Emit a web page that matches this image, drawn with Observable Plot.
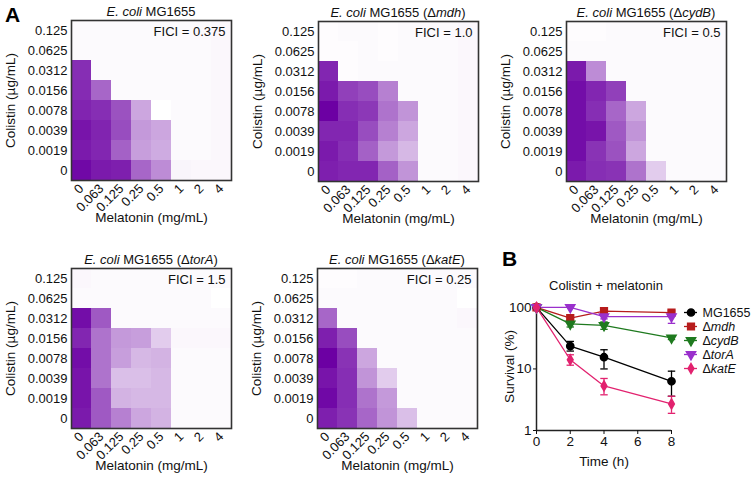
<!DOCTYPE html>
<html><head><meta charset="utf-8">
<script src="https://cdn.jsdelivr.net/npm/d3@7"></script>
<script src="https://cdn.jsdelivr.net/npm/@observablehq/plot@0.6"></script>
<style>
body{margin:0;background:#fff;font-family:"Liberation Sans",Arial,sans-serif;}
#fig{position:relative;width:752px;height:486px;overflow:hidden;background:#fff;}
.ttl{position:absolute;font-size:13px;color:#111;white-space:nowrap;transform:translate(-50%,-50%);line-height:1;}
.pl{position:absolute;font-size:21px;font-weight:bold;color:#000;line-height:1;}
svg text{font-family:"Liberation Sans",Arial,sans-serif;}
</style></head><body><div id="fig"></div>
<script>
// ---------- Heatmap data (checkerboard growth, 0..1) ----------
const melatonin = ["0","0.063","0.125","0.25","0.5","1","2","4"];
const colistin = ["0.125","0.0625","0.0312","0.0156","0.0078","0.0039","0.0019","0"]; // top -> bottom

const growthWT = [
  [0.02,0.02,0.02,0.02,0.02,0.02,0.02,0.03],
  [0.02,0.02,0.02,0.02,0.02,0.02,0.02,0.03],
  [0.82,0.02,0.02,0.02,0.02,0.02,0.02,0.03],
  [0.83,0.60,0.02,0.02,0.02,0.02,0.02,0.03],
  [0.86,0.82,0.68,0.35,0.00,0.02,0.02,0.03],
  [0.92,0.86,0.70,0.40,0.35,0.02,0.02,0.03],
  [0.90,0.85,0.62,0.38,0.33,0.02,0.02,0.03],
  [0.97,0.90,0.88,0.60,0.45,0.04,0.03,0.03]
];
const growthMdh = [
  [0.01,0.02,0.02,0.01,0.02,0.02,0.02,0.03],
  [0.01,0.01,0.02,0.01,0.02,0.02,0.02,0.03],
  [0.85,0.01,0.02,0.02,0.02,0.02,0.02,0.03],
  [0.90,0.75,0.70,0.50,0.02,0.02,0.02,0.03],
  [1.00,0.82,0.78,0.55,0.42,0.02,0.02,0.03],
  [0.85,0.85,0.70,0.50,0.35,0.02,0.02,0.03],
  [0.90,0.82,0.62,0.40,0.28,0.02,0.02,0.03],
  [0.88,0.85,0.85,0.62,0.42,0.02,0.02,0.03]
];
const growthCydB = [
  [0.01,0.01,0.02,0.02,0.02,0.02,0.02,0.02],
  [0.02,0.02,0.02,0.02,0.02,0.02,0.02,0.02],
  [0.90,0.45,0.02,0.02,0.02,0.02,0.02,0.02],
  [0.95,0.85,0.75,0.02,0.02,0.02,0.02,0.02],
  [0.95,0.82,0.60,0.35,0.02,0.02,0.02,0.02],
  [0.95,0.92,0.65,0.42,0.02,0.02,0.02,0.02],
  [0.95,0.80,0.68,0.35,0.02,0.02,0.02,0.02],
  [0.90,0.82,0.80,0.55,0.20,0.02,0.02,0.02]
];
const growthTorA = [
  [0.03,0.02,0.02,0.02,0.02,0.02,0.02,0.02],
  [0.02,0.02,0.02,0.02,0.02,0.02,0.02,0.00],
  [0.95,0.65,0.02,0.02,0.02,0.02,0.02,0.02],
  [0.85,0.55,0.40,0.38,0.20,0.03,0.03,0.03],
  [0.95,0.55,0.38,0.28,0.30,0.02,0.02,0.02],
  [0.92,0.55,0.25,0.25,0.28,0.02,0.02,0.02],
  [0.92,0.65,0.30,0.28,0.28,0.02,0.02,0.02],
  [0.90,0.65,0.50,0.35,0.30,0.02,0.02,0.02]
];
const growthKatE = [
  [0.01,0.01,0.02,0.02,0.02,0.02,0.02,0.02],
  [0.02,0.02,0.02,0.02,0.02,0.02,0.02,0.00],
  [0.60,0.02,0.02,0.02,0.02,0.02,0.02,0.03],
  [0.88,0.70,0.02,0.02,0.02,0.02,0.02,0.02],
  [1.00,0.80,0.35,0.02,0.02,0.02,0.02,0.02],
  [0.92,0.82,0.42,0.20,0.02,0.02,0.02,0.02],
  [0.97,0.82,0.55,0.40,0.02,0.02,0.02,0.02],
  [0.88,0.80,0.60,0.42,0.25,0.02,0.02,0.02]
];
const ficiLabels = ["FICI = 0.375","FICI = 1.0","FICI = 0.5","FICI = 1.5","FICI = 0.25"];
const heatTitles = [
  "<i>E. coli</i> MG1655",
  "<i>E. coli</i> MG1655 (Δ<i>mdh</i>)",
  "<i>E. coli</i> MG1655 (Δ<i>cydB</i>)",
  "<i>E. coli</i> MG1655 (Δ<i>torA</i>)",
  "<i>E. coli</i> MG1655 (Δ<i>katE</i>)"
];

// ---------- Time-kill data ----------
const strains = ["MG1655","Δmdh","ΔcydB","ΔtorA","ΔkatE"];
const times = [0,2,4,8];
const timeTicks = [0,2,4,6,8];
const survTicks = [1,10,100];
const survMG1655 = [100,23.5,15.5,6.3], loMG1655 = [100,19.5,10,3.6], hiMG1655 = [100,28,20.5,9.2];
const survMdh = [100,67,87,82],        loMdh = [100,62,80,75],      hiMdh = [100,72,93,89];
const survCydB = [100,54,51,32],       loCydB = [100,48,44,30],     hiCydB = [100,60,58,34];
const survTorA = [100,100,71,71],      loTorA = [100,100,65,55],    hiTorA = [100,100,77,85];
const survKatE = [100,14.1,5.3,2.7],   loKatE = [100,11.5,3.8,1.9], hiKatE = [100,17,7,3.6];
const strainColors = ["#000000","#b71c1c","#1f7a1f","#9a30cc","#e2226f"];
const strainSymbols = ["circle","square","triangle","triangle","diamond"];
const strainRotate = [0,0,180,180,0];
const strainR = [3.6,3.8,3.4,3.4,3.0];

const FONT = '"Liberation Sans", Arial, sans-serif';
const fig = document.getElementById("fig");

function place(el, left, top) {
  el.style.position = "absolute"; el.style.left = left + "px"; el.style.top = top + "px";
  fig.appendChild(el);
}
function addDiv(cls, html, left, top) {
  const d = document.createElement("div"); d.className = cls; d.innerHTML = html;
  d.style.left = left + "px"; d.style.top = top + "px"; fig.appendChild(d);
}
// enforce text sizes on axis texts
function styleTexts(svg, tickSize, labelSize) {
  svg.querySelectorAll("text").forEach(t => {
    const g = t.closest("[aria-label]");
    const lab = g ? g.getAttribute("aria-label") : "";
    t.style.fontFamily = FONT;
    if (/tick label/.test(lab)) t.style.fontSize = tickSize + "px";
    else if (/axis label/.test(lab)) {
      t.style.fontSize = labelSize + "px";
      t.textContent = t.textContent.replace(/[↑↓→←]/g, "").trim();
    }
  });
}

function heat(matrix, fici) {
  const data = [];
  matrix.forEach((row, i) => row.forEach((v, j) => data.push({mel: melatonin[j], col: colistin[i], v})));
  const svg = Plot.plot({
    width: 250, height: 240, marginLeft: 71, marginRight: 19, marginTop: 20, marginBottom: 60,
    style: {fontFamily: FONT, fontSize: "13px", color: "#111", background: "transparent", overflow: "visible"},
    x: {domain: melatonin, padding: 0},
    y: {domain: colistin, padding: 0},
    color: {type: "linear", domain: [0, 1], range: ["#ffffff", "#6c00a3"], interpolate: "rgb"},
    marks: [
      Plot.cell(data, {x: "mel", y: "col", fill: "v", shapeRendering: "crispEdges"}),
      Plot.frame({stroke: "#333", strokeWidth: 1.6}),
      Plot.text([fici], {frameAnchor: "top-right", dx: -6, dy: 6, fontSize: 13, fill: "#111"}),
      Plot.axisY({tickSize: 0, tickPadding: 4, fontSize: 13, label: "Colistin (µg/mL)", labelAnchor: "center", labelOffset: 66, labelArrow: "none"}),
      Plot.axisX({tickRotate: -45, tickSize: 0, tickPadding: 6, fontSize: 13, label: "Melatonin (mg/mL)", labelAnchor: "center", labelOffset: 41, labelArrow: "none"})
    ]
  });
  styleTexts(svg, 13, 13.5);
  return svg;
}

const heatSpecs = [
  {m: growthWT,   left: 0,   top: 0,   cx: 151, cy: 11},
  {m: growthMdh,  left: 247, top: 1,   cx: 398, cy: 12},
  {m: growthCydB, left: 495, top: 1,   cx: 646, cy: 12},
  {m: growthTorA, left: 0,   top: 248, cx: 151, cy: 259},
  {m: growthKatE, left: 246, top: 248, cx: 397, cy: 259}
];
heatSpecs.forEach((s, i) => {
  place(heat(s.m, ficiLabels[i]), s.left, s.top);
  addDiv("ttl", heatTitles[i], s.cx, s.cy);
});

// ---------- Panel B ----------
const survs = [survMG1655, survMdh, survCydB, survTorA, survKatE];
const los = [loMG1655, loMdh, loCydB, loTorA, loKatE];
const his = [hiMG1655, hiMdh, hiCydB, hiTorA, hiKatE];
const rows = [];
strains.forEach((name, k) => times.forEach((t, i) => rows.push({name, t, v: survs[k][i], lo: los[k][i], hi: his[k][i]})));
const errs = rows.filter(d => d.hi > d.lo);

const plotB = Plot.plot({
  width: 180, height: 246, marginLeft: 36, marginRight: 9, marginTop: 62, marginBottom: 56,
  style: {fontFamily: FONT, fontSize: "13.5px", color: "#111", background: "transparent", overflow: "visible"},
  x: {domain: [0, 8]},
  y: {type: "log", domain: [1, 120]},
  color: {domain: strains, range: strainColors},
  marks: [
    Plot.ruleX([0], {stroke: "#222", strokeWidth: 1.5}),
    Plot.ruleY([1], {stroke: "#222", strokeWidth: 1.5}),
    Plot.axisX({ticks: timeTicks, tickSize: 4, tickPadding: 2, fontSize: 13.5, label: "Time (h)", labelAnchor: "center", labelOffset: 35, labelArrow: "none"}),
    Plot.axisY({ticks: survTicks, tickFormat: d => String(d), tickSize: 3, tickPadding: 2, fontSize: 13.5, label: "Survival (%)", labelAnchor: "center", labelOffset: 32, labelArrow: "none"}),
    Plot.line(rows, {x: "t", y: "v", z: "name", stroke: "name", strokeWidth: 1.3}),
    Plot.ruleX(errs, {x: "t", y1: "lo", y2: "hi", stroke: "name", strokeWidth: 1.3}),
    Plot.link(errs, {x1: d => d.t - 0.22, x2: d => d.t + 0.22, y1: "lo", y2: "lo", stroke: "name", strokeWidth: 1.3}),
    Plot.link(errs, {x1: d => d.t - 0.22, x2: d => d.t + 0.22, y1: "hi", y2: "hi", stroke: "name", strokeWidth: 1.3}),
    ...strains.map((name, k) => Plot.dot(rows.filter(d => d.name === name), {
      x: "t", y: "v", fill: "name", stroke: "name", symbol: strainSymbols[k], r: strainR[k], rotate: strainRotate[k]
    }))
  ]
});
styleTexts(plotB, 13.5, 13.5);
place(plotB, 500, 240);

// legend
const legend = Plot.plot({
  width: 72, height: 76, marginLeft: 4, marginRight: 55, marginTop: 4, marginBottom: 1,
  style: {fontFamily: FONT, fontSize: "12.5px", color: "#111", background: "transparent", overflow: "visible"},
  y: {type: "point", domain: strains, padding: 0.5, axis: null},
  color: {domain: strains, range: strainColors},
  marks: [
    Plot.ruleY(strains, {y: d => d, stroke: d => d, strokeWidth: 1.3}),
    ...strains.map((name, k) => Plot.dot([name], {y: d => d, fill: d => d, stroke: d => d, symbol: strainSymbols[k], r: strainR[k], rotate: strainRotate[k]})),
    Plot.text(strains, {y: d => d, frameAnchor: "right", textAnchor: "start", dx: 5, fontSize: 12.5, fill: "#111"})
  ]
});
legend.querySelectorAll("text").forEach(t => {
  const s = t.textContent;
  if (s.startsWith("Δ")) t.innerHTML = 'Δ<tspan font-style="italic">' + s.slice(1) + '</tspan>';
});
place(legend, 680, 300);

addDiv("ttl", "Colistin + melatonin", 606, 285);
addDiv("pl", "A", 5, 4);
addDiv("pl", "B", 502, 248);
</script></body></html>
